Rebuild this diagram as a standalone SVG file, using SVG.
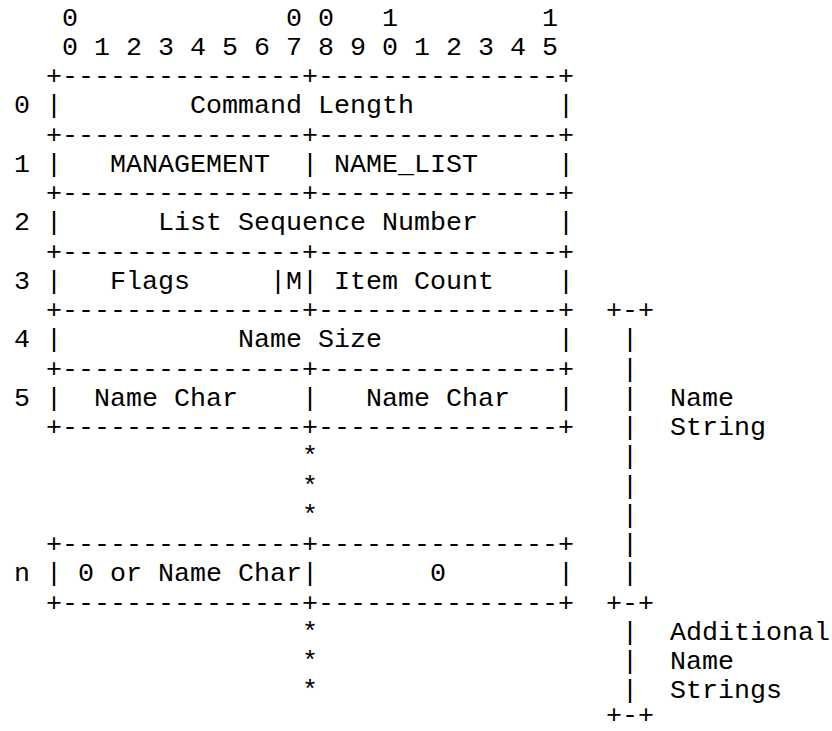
<svg xmlns="http://www.w3.org/2000/svg" width="832" height="731" viewBox="0 0 832 731">
<style>
text{font-family:"Liberation Mono","DejaVu Sans Mono",monospace;font-size:26.667px;fill:#000;white-space:pre}
</style>
<rect width="832" height="731" fill="#fff"/>
<g id="header">
<text x="62" y="25.5" xml:space="preserve">0             0 0   1         1</text>
<text x="62" y="54.75" xml:space="preserve">0 1 2 3 4 5 6 7 8 9 0 1 2 3 4 5</text>
</g>
<g id="connectors">
<text x="46" y="84">+---------------+---------------+</text>
<text x="46" y="142.5">+---------------+---------------+</text>
<text x="46" y="201">+---------------+---------------+</text>
<text x="46" y="259.5">+---------------+---------------+</text>
<text x="46" y="318">+---------------+---------------+</text>
<text x="46" y="376.5">+---------------+---------------+</text>
<text x="46" y="435">+---------------+---------------+</text>
<text x="46" y="552">+---------------+---------------+</text>
<text x="46" y="610.5">+---------------+---------------+</text>
<text x="46" y="113.25">|</text><text x="558" y="113.25">|</text>
<text x="46" y="171.75">|</text><text x="302" y="171.75">|</text><text x="558" y="171.75">|</text>
<text x="46" y="230.25">|</text><text x="558" y="230.25">|</text>
<text x="46" y="288.75">|</text><text x="270" y="288.75">|</text><text x="302" y="288.75">|</text><text x="558" y="288.75">|</text>
<text x="46" y="347.25">|</text><text x="558" y="347.25">|</text>
<text x="46" y="405.75">|</text><text x="302" y="405.75">|</text><text x="558" y="405.75">|</text>
<text x="46" y="581.25">|</text><text x="302" y="581.25">|</text><text x="558" y="581.25">|</text>
<text x="302" y="464.25">*</text>
<text x="302" y="493.5">*</text>
<text x="302" y="522.75">*</text>
<text x="302" y="639.75">*</text>
<text x="302" y="669">*</text>
<text x="302" y="698.25">*</text>
<text x="606" y="318">+-+</text>
<text x="622" y="347.25">|</text>
<text x="622" y="376.5">|</text>
<text x="622" y="405.75">|</text>
<text x="622" y="435">|</text>
<text x="622" y="464.25">|</text>
<text x="622" y="493.5">|</text>
<text x="622" y="522.75">|</text>
<text x="622" y="552">|</text>
<text x="622" y="581.25">|</text>
<text x="606" y="610.5">+-+</text>
<text x="622" y="639.75">|</text>
<text x="622" y="669">|</text>
<text x="622" y="698.25">|</text>
<text x="606" y="722.5">+-+</text>
</g>
<g id="row-0"><text x="14" y="113.25">0</text><text x="190" y="113.25">Command Length</text></g>
<g id="row-1"><text x="14" y="171.75">1</text><text x="110" y="171.75">MANAGEMENT</text><text x="334" y="171.75">NAME_LIST</text></g>
<g id="row-2"><text x="14" y="230.25">2</text><text x="158" y="230.25">List Sequence Number</text></g>
<g id="row-3"><text x="14" y="288.75">3</text><text x="110" y="288.75">Flags</text><text x="286" y="288.75">M</text><text x="334" y="288.75">Item Count</text></g>
<g id="row-4"><text x="14" y="347.25">4</text><text x="238" y="347.25">Name Size</text></g>
<g id="row-5"><text x="14" y="405.75">5</text><text x="94" y="405.75">Name Char</text><text x="366" y="405.75">Name Char</text></g>
<g id="row-n"><text x="14" y="581.25">n</text><text x="78" y="581.25">0 or Name Char</text><text x="430" y="581.25">0</text></g>
<g id="name-string"><text x="670" y="405.75">Name</text><text x="670" y="435">String</text></g>
<g id="additional-name-strings"><text x="670" y="639.75">Additional</text><text x="670" y="669">Name</text><text x="670" y="698.25">Strings</text></g>
</svg>
